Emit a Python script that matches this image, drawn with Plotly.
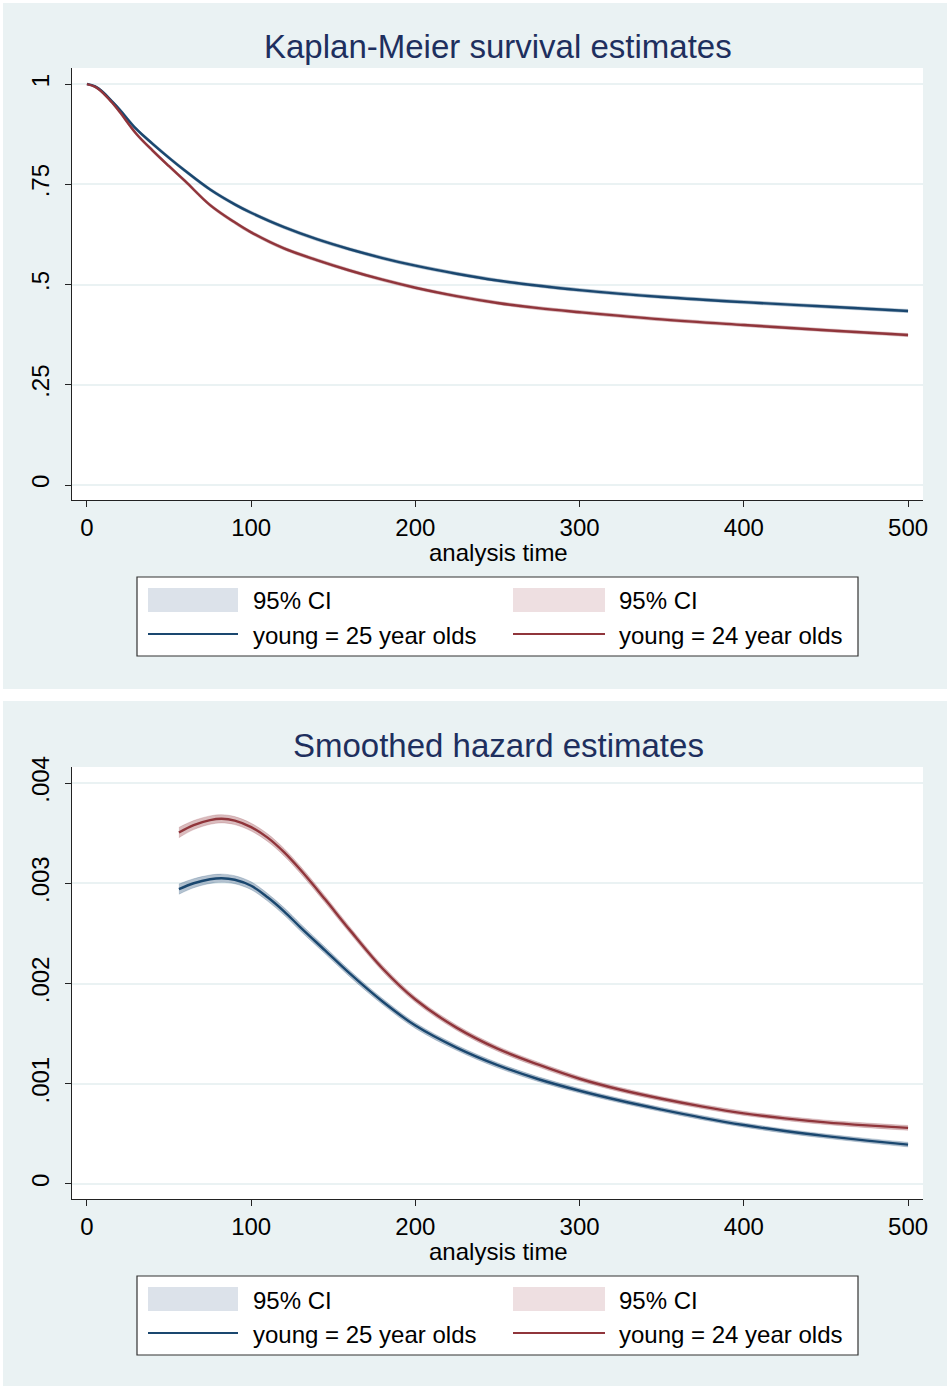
import plotly.graph_objects as go

# ---------------- data ----------------
t_km = [0, 5, 10, 15, 20, 30, 40, 50, 60, 75, 90, 100, 120, 140, 160, 180,
        200, 225, 250, 275, 300, 350, 400, 450, 500]
km_25 = [1.0, 0.994, 0.979, 0.958, 0.936, 0.888, 0.851, 0.816, 0.783, 0.737,
         0.700, 0.679, 0.643, 0.613, 0.588, 0.566, 0.547, 0.527, 0.510, 0.497,
         0.486, 0.469, 0.456, 0.445, 0.434]
km_25_lo = [1.0, 0.992, 0.976, 0.955, 0.932, 0.884, 0.847, 0.812, 0.779, 0.733,
            0.696, 0.675, 0.639, 0.609, 0.584, 0.562, 0.543, 0.523, 0.506, 0.493,
            0.482, 0.465, 0.452, 0.441, 0.430]
km_25_hi = [1.0, 0.996, 0.982, 0.961, 0.940, 0.892, 0.855, 0.820, 0.787, 0.741,
            0.704, 0.683, 0.647, 0.617, 0.592, 0.570, 0.551, 0.531, 0.514, 0.501,
            0.490, 0.473, 0.460, 0.449, 0.438]
km_24 = [1.0, 0.993, 0.977, 0.955, 0.930, 0.876, 0.834, 0.795, 0.757, 0.698,
         0.655, 0.630, 0.590, 0.561, 0.535, 0.512, 0.492, 0.471, 0.454, 0.441,
         0.431, 0.413, 0.399, 0.386, 0.374]
km_24_lo = [1.0, 0.991, 0.974, 0.952, 0.926, 0.872, 0.830, 0.791, 0.753, 0.694,
            0.651, 0.626, 0.586, 0.557, 0.531, 0.508, 0.488, 0.467, 0.450, 0.437,
            0.427, 0.409, 0.395, 0.382, 0.370]
km_24_hi = [1.0, 0.995, 0.980, 0.958, 0.934, 0.880, 0.838, 0.799, 0.761, 0.702,
            0.659, 0.634, 0.594, 0.565, 0.539, 0.516, 0.496, 0.475, 0.458, 0.445,
            0.435, 0.417, 0.403, 0.390, 0.378]

t_hz = [56, 65, 75, 82, 90, 100, 110, 120, 130, 145, 160, 180, 200, 225, 250,
        275, 300, 325, 350, 375, 400, 425, 450, 475, 500]
hz_25 = [0.002941, 0.003000, 0.003040, 0.003050, 0.003035, 0.002975, 0.002860,
         0.002720, 0.002560, 0.002330, 0.002100, 0.001820, 0.001580, 0.001360,
         0.001185, 0.001045, 0.000930, 0.000830, 0.000742, 0.000660, 0.000588,
         0.000528, 0.000477, 0.000433, 0.000393]
hz_25_lo = [0.002890, 0.002955, 0.002998, 0.003009, 0.002995, 0.002936, 0.002822,
            0.002683, 0.002524, 0.002296, 0.002068, 0.001790, 0.001552, 0.001334,
            0.001160, 0.001021, 0.000907, 0.000808, 0.000721, 0.000639, 0.000567,
            0.000507, 0.000456, 0.000411, 0.000370]
hz_25_hi = [0.002992, 0.003045, 0.003082, 0.003091, 0.003075, 0.003014, 0.002898,
            0.002757, 0.002596, 0.002364, 0.002132, 0.001850, 0.001608, 0.001386,
            0.001210, 0.001069, 0.000953, 0.000852, 0.000763, 0.000681, 0.000609,
            0.000549, 0.000498, 0.000455, 0.000416]
hz_24 = [0.003506, 0.003580, 0.003630, 0.003643, 0.003625, 0.003560, 0.003455,
         0.003310, 0.003134, 0.002840, 0.002535, 0.002150, 0.001840, 0.001560,
         0.001350, 0.001190, 0.001050, 0.000940, 0.000850, 0.000772, 0.000705,
         0.000655, 0.000615, 0.000585, 0.000560]
hz_24_lo = [0.003455, 0.003535, 0.003588, 0.003602, 0.003585, 0.003521, 0.003417,
            0.003273, 0.003098, 0.002806, 0.002503, 0.002120, 0.001812, 0.001534,
            0.001325, 0.001166, 0.001027, 0.000918, 0.000829, 0.000751, 0.000684,
            0.000634, 0.000593, 0.000562, 0.000536]
hz_24_hi = [0.003557, 0.003625, 0.003672, 0.003684, 0.003665, 0.003599, 0.003493,
            0.003347, 0.003170, 0.002874, 0.002567, 0.002180, 0.001868, 0.001586,
            0.001375, 0.001214, 0.001073, 0.000962, 0.000871, 0.000793, 0.000726,
            0.000676, 0.000637, 0.000608, 0.000584]

x_ticks = [0, 100, 200, 300, 400, 500]
km_yticks = [0, 0.25, 0.5, 0.75, 1]
km_yticklabels = ["0", ".25", ".5", ".75", "1"]
hz_yticks = [0, 0.001, 0.002, 0.003, 0.004]
hz_yticklabels = ["0", ".001", ".002", ".003", ".004"]

titles = ["Kaplan-Meier survival estimates", "Smoothed hazard estimates"]
x_title = "analysis time"
legend_ci = "95% CI"
legend_25 = "young = 25 year olds"
legend_24 = "young = 24 year olds"

# ---------------- styling ----------------
W, H = 947, 1387
BG = "#EAF2F3"
NAVY = "#1A476F"
MAROON = "#90353B"
NAVY_BAND = "rgba(26,71,111,0.33)"
MAROON_BAND = "rgba(144,53,59,0.33)"
NAVY_SW = "#DCE2EA"
MAROON_SW = "#EEDFE1"
TITLE_C = "#1E2F5E"
FONT = "Arial, Liberation Sans, sans-serif"
TXT = 24


def px(x):
    return x / W


def py(y):
    return 1 - y / H


fig = go.Figure()


def add_ci(xs, lo, hi, color, xa, ya):
    fig.add_trace(go.Scatter(x=xs, y=lo, mode="lines", line=dict(width=0.6, color=color, shape="spline"),
                             showlegend=False, hoverinfo="skip", xaxis=xa, yaxis=ya))
    fig.add_trace(go.Scatter(x=xs, y=hi, mode="lines", line=dict(width=0.6, color=color, shape="spline"),
                             fill="tonexty", fillcolor=color,
                             showlegend=False, hoverinfo="skip", xaxis=xa, yaxis=ya))


# panel 1
add_ci(t_km, km_25_lo, km_25_hi, NAVY_BAND, "x", "y")
add_ci(t_km, km_24_lo, km_24_hi, MAROON_BAND, "x", "y")
fig.add_trace(go.Scatter(x=t_km, y=km_25, mode="lines", line=dict(color=NAVY, width=2.4, shape="spline"),
                         showlegend=False, xaxis="x", yaxis="y"))
fig.add_trace(go.Scatter(x=t_km, y=km_24, mode="lines", line=dict(color=MAROON, width=2.4, shape="spline"),
                         showlegend=False, xaxis="x", yaxis="y"))
# panel 2
add_ci(t_hz, hz_25_lo, hz_25_hi, NAVY_BAND, "x2", "y2")
add_ci(t_hz, hz_24_lo, hz_24_hi, MAROON_BAND, "x2", "y2")
fig.add_trace(go.Scatter(x=t_hz, y=hz_25, mode="lines", line=dict(color=NAVY, width=2.4, shape="spline"),
                         showlegend=False, xaxis="x2", yaxis="y2"))
fig.add_trace(go.Scatter(x=t_hz, y=hz_24, mode="lines", line=dict(color=MAROON, width=2.4, shape="spline"),
                         showlegend=False, xaxis="x2", yaxis="y2"))

# plot area pixel positions
plot_x0, plot_x1 = 72, 923
panels = [
    dict(top=3, bottom=689, py0=68, py1=500, yr=[-0.0374, 1.040]),
    dict(top=701, bottom=1386, py0=767, py1=1199, yr=[-0.0001497, 0.0041597]),
]
xr = [-9.1, 509.1]

axis_common = dict(showline=True, linecolor="#222222", linewidth=1.3, ticks="outside",
                   ticklen=6, tickwidth=1.3, tickcolor="#222222", zeroline=False,
                   tickfont=dict(family=FONT, size=TXT, color="#000000"), automargin=False)

layout_axes = {}
for i, p in enumerate(panels):
    sfx = "" if i == 0 else "2"
    layout_axes["xaxis" + sfx] = dict(
        domain=[px(plot_x0), px(plot_x1)], range=xr, anchor="y" + sfx,
        tickvals=x_ticks, ticktext=[str(v) for v in x_ticks], showgrid=False, **axis_common)
    yt = km_yticks if i == 0 else hz_yticks
    ytl = km_yticklabels if i == 0 else hz_yticklabels
    layout_axes["yaxis" + sfx] = dict(
        domain=[py(p["py1"]), py(p["py0"])], range=p["yr"], anchor="x" + sfx,
        tickvals=yt, ticktext=ytl, tickangle=-90, showgrid=True, gridcolor=BG,
        gridwidth=2, ticklabelstandoff=6, **axis_common)

shapes = []
annotations = []
for i, p in enumerate(panels):
    off = 0 if i == 0 else 699
    shapes.append(dict(type="rect", xref="paper", yref="paper", x0=px(3), x1=px(947),
                       y0=py(p["bottom"]), y1=py(p["top"]), fillcolor=BG, line=dict(width=0),
                       layer="below"))
    shapes.append(dict(type="rect", xref="paper", yref="paper", x0=px(plot_x0), x1=px(plot_x1),
                       y0=py(p["py1"]), y1=py(p["py0"]), fillcolor="#FFFFFF", line=dict(width=0),
                       layer="below"))
    annotations.append(dict(text=titles[i], xref="paper", yref="paper", x=px(498), y=py(46 + off),
                            xanchor="center", yanchor="middle", showarrow=False,
                            font=dict(family=FONT, size=33, color=TITLE_C)))
    annotations.append(dict(text=x_title, xref="paper", yref="paper", x=px(498), y=py(552 + off),
                            xanchor="center", yanchor="middle", showarrow=False,
                            font=dict(family=FONT, size=TXT, color="#000000")))
    shapes.append(dict(type="rect", xref="paper", yref="paper", x0=px(137), x1=px(858),
                       y0=py(656 + off), y1=py(577 + off), fillcolor="#FFFFFF",
                       line=dict(color="#333333", width=1.2)))
    for (sx0, sx1, tx, sw, lc, lab) in [(148, 238, 251, NAVY_SW, NAVY, legend_25),
                                        (513, 605, 617, MAROON_SW, MAROON, legend_24)]:
        shapes.append(dict(type="rect", xref="paper", yref="paper", x0=px(sx0), x1=px(sx1),
                           y0=py(612 + off), y1=py(588 + off), fillcolor=sw, line=dict(width=0)))
        shapes.append(dict(type="line", xref="paper", yref="paper", x0=px(sx0), x1=px(sx1),
                           y0=py(634 + off), y1=py(634 + off), line=dict(color=lc, width=2)))
        annotations.append(dict(text=legend_ci, xref="paper", yref="paper", x=px(tx), y=py(601 + off),
                                xanchor="left", yanchor="middle", showarrow=False,
                                font=dict(family=FONT, size=TXT, color="#000000")))
        annotations.append(dict(text=lab, xref="paper", yref="paper", x=px(tx), y=py(635 + off),
                                xanchor="left", yanchor="middle", showarrow=False,
                                font=dict(family=FONT, size=TXT, color="#000000")))

fig.update_layout(
    template="none",
    width=W, height=H,
    margin=dict(l=0, r=0, t=0, b=0, pad=0),
    paper_bgcolor="#FFFFFF",
    plot_bgcolor="rgba(0,0,0,0)",
    showlegend=False,
    shapes=shapes,
    annotations=annotations,
    font=dict(family=FONT),
    **layout_axes,
)

fig.write_html("out.html")
